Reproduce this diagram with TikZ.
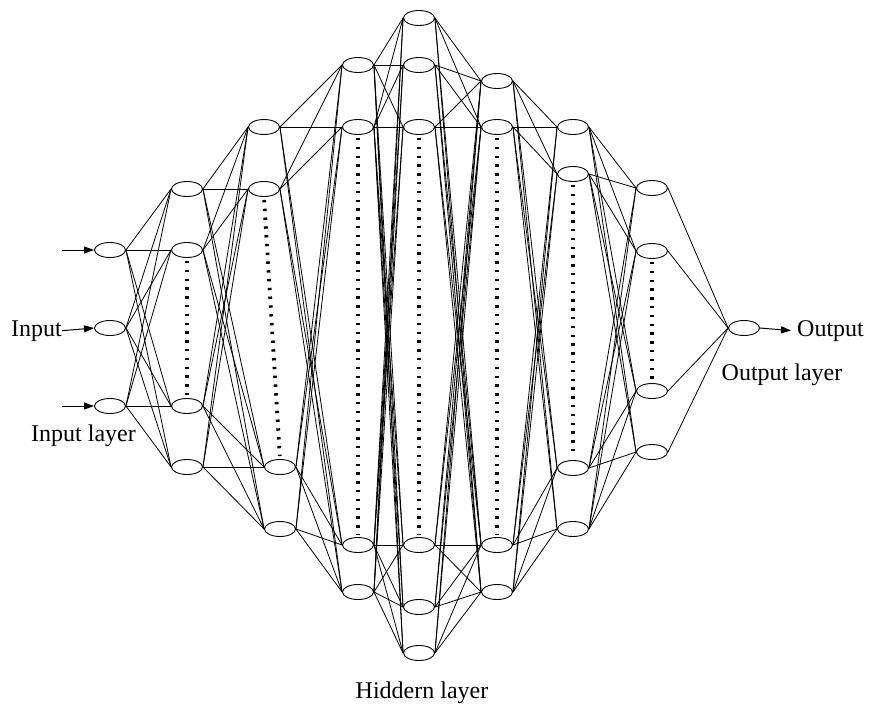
\documentclass[tikz,border=0pt]{standalone}
\usepackage{fontspec}
\setmainfont{Liberation Serif}
\usetikzlibrary{arrows.meta,shapes.geometric}
\begin{document}
\begin{tikzpicture}[x=1pt,y=-1pt,
  neuron/.style={draw,ellipse,fill=white,minimum width=31pt,minimum height=15pt,inner sep=0pt,line width=0.9pt},
  link/.style={line width=0.8pt},
  gap/.style={line width=3.8pt,dash pattern=on 2.4pt off 6.4pt,shorten >=3pt,shorten <=3pt},
  feed/.style={line width=1pt,-{Triangle[length=10pt,width=7pt]}},
  lbl/.style={font=\fontsize{24}{28}\selectfont,inner sep=0pt}]
\useasboundingbox (0,0) rectangle (870,707);

% input layer
\node[neuron] (a1) at (110,250) {};
\node[neuron] (a2) at (110,328) {};
\node[neuron] (a3) at (110,406) {};
% hidden layers
\node[neuron] (b1) at (187,189) {};
\node[neuron] (b2) at (187,250) {};
\node[neuron] (b3) at (187,406) {};
\node[neuron] (b4) at (187,467) {};

\node[neuron] (c1) at (264,127) {};
\node[neuron] (c2) at (264,189) {};
\node[neuron] (c3) at (280,467) {};
\node[neuron] (c4) at (280,529) {};

\node[neuron] (d1) at (358,65) {};
\node[neuron] (d2) at (358,127) {};
\node[neuron] (d3) at (358,545) {};
\node[neuron] (d4) at (358,592) {};

\node[neuron] (e1) at (419,18) {};
\node[neuron] (e2) at (419,65) {};
\node[neuron] (e3) at (419,127) {};
\node[neuron] (e4) at (419,545) {};
\node[neuron] (e5) at (419,607) {};
\node[neuron] (e6) at (419,653) {};

\node[neuron] (f1) at (497,81) {};
\node[neuron] (f2) at (497,127) {};
\node[neuron] (f3) at (497,545) {};
\node[neuron] (f4) at (497,592) {};

\node[neuron] (g1) at (573,127) {};
\node[neuron] (g2) at (573,174) {};
\node[neuron] (g3) at (573,468) {};
\node[neuron] (g4) at (573,529) {};

\node[neuron] (h1) at (652,188) {};
\node[neuron] (h2) at (652,251) {};
\node[neuron] (h3) at (652,391) {};
\node[neuron] (h4) at (652,452) {};
% output layer
\node[neuron] (o) at (744,328) {};

% full connections between neighbouring layers
\foreach \s in {a1,a2,a3} \foreach \t in {b1,b2,b3,b4} \draw[link] (\s.east) -- (\t.west);
\foreach \s in {b1,b2,b3,b4} \foreach \t in {c1,c2,c3,c4} \draw[link] (\s.east) -- (\t.west);
\foreach \s in {c1,c2,c3,c4} \foreach \t in {d1,d2,d3,d4} \draw[link] (\s.east) -- (\t.west);
\foreach \s in {d1,d2,d3,d4} \foreach \t in {e1,e2,e3,e4,e5,e6} \draw[link] (\s.east) -- (\t.west);
\foreach \s in {e1,e2,e3,e4,e5,e6} \foreach \t in {f1,f2,f3,f4} \draw[link] (\s.east) -- (\t.west);
\foreach \s in {f1,f2,f3,f4} \foreach \t in {g1,g2,g3,g4} \draw[link] (\s.east) -- (\t.west);
\foreach \s in {g1,g2,g3,g4} \foreach \t in {h1,h2,h3,h4} \draw[link] (\s.east) -- (\t.west);
\foreach \s in {h1,h2,h3,h4} \draw[link] (\s.east) -- (o.west);

% omitted neurons
\draw[gap] (b2.south) -- (b3.north);
\draw[gap] (c2.south) -- (c3.north);
\draw[gap] (d2.south) -- (d3.north);
\draw[gap] (e3.south) -- (e4.north);
\draw[gap] (f2.south) -- (f3.north);
\draw[gap] (g2.south) -- (g3.north);
\draw[gap] (h2.south) -- (h3.north);

% inputs and output
\node[lbl,anchor=base east] (tin) at (62,336) {Input};
\coordinate (in1) at (62,250);
\coordinate (in3) at (62,406);
\draw[feed] (in1) -- (a1.west);
\draw[feed] (tin.east) -- (a2.west);
\draw[feed] (in3) -- (a3.west);

\node[lbl,anchor=base west] (tout) at (797,336) {Output};
\draw[feed] (o.east) -- ([xshift=-6pt]tout.west);

% layer captions
\node[lbl,anchor=base] (capin) at (83.5,441) {Input layer};
\node[lbl,anchor=base] (caphid) at (422,698) {Hiddern layer};
\node[lbl,anchor=base] (capout) at (782,380) {Output layer};
\end{tikzpicture}
\end{document}
